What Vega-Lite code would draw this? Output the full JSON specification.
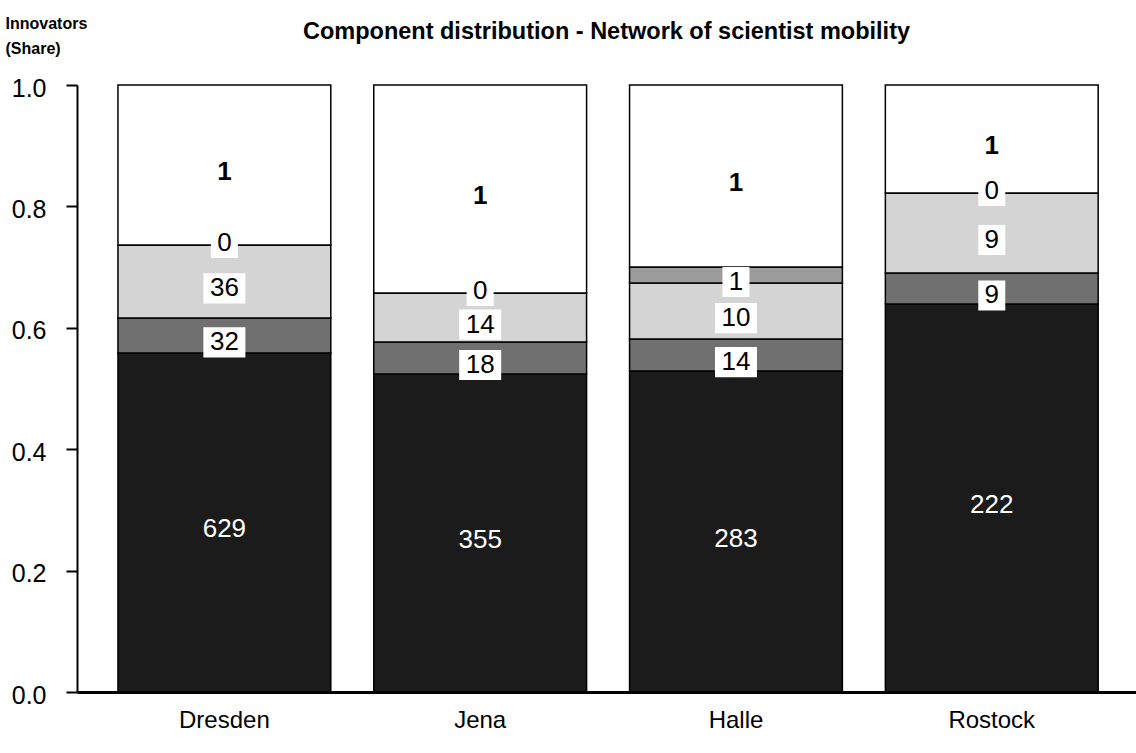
{
  "$schema": "https://vega.github.io/schema/vega-lite/v6.json",
  "width": 1059,
  "height": 607,
  "autosize": {"type": "none"},
  "padding": {"left": 77, "top": 85, "right": 0, "bottom": 61},
  "background": "white",
  "config": {"font": "Liberation Sans", "view": {"stroke": null}},
  "title": {
    "text": "Component distribution - Network of scientist mobility",
    "fontSize": 23.5,
    "fontWeight": "bold",
    "color": "black",
    "anchor": "middle",
    "frame": "group",
    "baseline": "alphabetic",
    "offset": 0,
    "dy": 47
  },
  "data": {
    "values": [
      {"city": "Dresden", "type": "single", "order": 1, "share": 0.5585, "label": "629"},
      {"city": "Dresden", "type": "pair", "order": 2, "share": 0.0577, "label": "32"},
      {"city": "Dresden", "type": "small", "order": 3, "share": 0.1203, "label": "36"},
      {"city": "Dresden", "type": "mid", "order": 4, "share": 0, "label": "0"},
      {"city": "Dresden", "type": "largest", "order": 5, "share": 0.2635, "label": "1"},
      {"city": "Jena", "type": "single", "order": 1, "share": 0.5239, "label": "355"},
      {"city": "Jena", "type": "pair", "order": 2, "share": 0.0527, "label": "18"},
      {"city": "Jena", "type": "small", "order": 3, "share": 0.0807, "label": "14"},
      {"city": "Jena", "type": "mid", "order": 4, "share": 0, "label": "0"},
      {"city": "Jena", "type": "largest", "order": 5, "share": 0.3427, "label": "1"},
      {"city": "Halle", "type": "single", "order": 1, "share": 0.5288, "label": "283"},
      {"city": "Halle", "type": "pair", "order": 2, "share": 0.0527, "label": "14"},
      {"city": "Halle", "type": "small", "order": 3, "share": 0.0923, "label": "10"},
      {"city": "Halle", "type": "mid", "order": 4, "share": 0.0264, "label": "1"},
      {"city": "Halle", "type": "largest", "order": 5, "share": 0.2998, "label": "1"},
      {"city": "Rostock", "type": "single", "order": 1, "share": 0.6392, "label": "222"},
      {"city": "Rostock", "type": "pair", "order": 2, "share": 0.0511, "label": "9"},
      {"city": "Rostock", "type": "small", "order": 3, "share": 0.1318, "label": "9"},
      {"city": "Rostock", "type": "mid", "order": 4, "share": 0, "label": "0"},
      {"city": "Rostock", "type": "largest", "order": 5, "share": 0.1779, "label": "1"}
    ]
  },
  "transform": [
    {"stack": "share", "groupby": ["city"], "sort": [{"field": "order"}], "as": ["y0", "y1"]},
    {"calculate": "(datum.y0 + datum.y1) / 2", "as": "ymid"}
  ],
  "encoding": {
    "x": {
      "field": "city",
      "type": "nominal",
      "sort": ["Dresden", "Jena", "Halle", "Rostock"],
      "scale": {"paddingInner": 0.168, "paddingOuter": 0.154, "align": 0.52},
      "axis": {
        "title": null,
        "domainColor": "black",
        "domainWidth": 3,
        "ticks": false,
        "labelFontSize": 24,
        "labelColor": "black",
        "labelPadding": 16,
        "labelAngle": 0,
        "grid": false
      }
    }
  },
  "layer": [
    {
      "mark": {"type": "bar", "stroke": "black", "strokeWidth": 1.5},
      "encoding": {
        "y": {
          "field": "y0",
          "type": "quantitative",
          "scale": {"domain": [0, 1], "nice": false, "zero": true},
          "axis": {
            "values": [0, 0.2, 0.4, 0.6, 0.8, 1],
            "format": ".1f",
            "domainColor": "black",
            "domainWidth": 2,
            "tickColor": "black",
            "tickWidth": 2,
            "tickSize": 11,
            "labelFontSize": 25,
            "labelColor": "black",
            "labelPadding": 20,
            "labelOffset": 3,
            "grid": false,
            "title": ["Innovators", "(Share)"],
            "titleAngle": 0,
            "titleAlign": "left",
            "titleBaseline": "alphabetic",
            "titleX": -72,
            "titleY": -57,
            "titleFontSize": 16,
            "titleFontWeight": "bold",
            "titleLineHeight": 25,
            "titleColor": "black"
          }
        },
        "y2": {"field": "y1"},
        "color": {
          "field": "type",
          "type": "nominal",
          "scale": {
            "domain": ["single", "pair", "small", "mid", "largest"],
            "range": ["#1b1b1b", "#707070", "#d4d4d4", "#9c9c9c", "#ffffff"]
          },
          "legend": null
        }
      }
    },
    {
      "transform": [{"filter": "datum.share > 0 && indexof(['pair','small','mid'], datum.type) >= 0 && length(datum.label) == 2"}],
      "mark": {"type": "point", "filled": true, "fill": "white", "strokeWidth": 0, "opacity": 1, "shape": "M-1,-0.72H1V0.72H-1Z", "size": 1764, "yOffset": 7},
      "encoding": {"y": {"field": "ymid", "type": "quantitative"}}
    },
    {
      "transform": [{"filter": "datum.share > 0 && indexof(['pair','small','mid'], datum.type) >= 0 && length(datum.label) == 1"}],
      "mark": {"type": "point", "filled": true, "fill": "white", "strokeWidth": 0, "opacity": 1, "shape": "M-0.9,-1H0.9V1H-0.9Z", "size": 900, "yOffset": 7},
      "encoding": {"y": {"field": "ymid", "type": "quantitative"}}
    },
    {
      "transform": [{"filter": "datum.share == 0"}],
      "mark": {"type": "point", "filled": true, "fill": "white", "strokeWidth": 0, "opacity": 1, "shape": "M-0.9,-1H0.9V1H-0.9Z", "size": 900, "yOffset": -2},
      "encoding": {"y": {"field": "ymid", "type": "quantitative"}}
    },
    {
      "transform": [{"filter": "datum.type == 'single'"}],
      "mark": {"type": "text", "fontSize": 26, "color": "white", "baseline": "middle", "yOffset": 7},
      "encoding": {"y": {"field": "ymid", "type": "quantitative"}, "text": {"field": "label"}}
    },
    {
      "transform": [{"filter": "datum.type == 'largest'"}],
      "mark": {"type": "text", "fontSize": 26, "fontWeight": "bold", "color": "black", "baseline": "middle", "yOffset": 7},
      "encoding": {"y": {"field": "ymid", "type": "quantitative"}, "text": {"field": "label"}}
    },
    {
      "transform": [{"filter": "datum.share > 0 && indexof(['pair','small','mid'], datum.type) >= 0"}],
      "mark": {"type": "text", "fontSize": 26, "color": "black", "baseline": "middle", "yOffset": 7},
      "encoding": {"y": {"field": "ymid", "type": "quantitative"}, "text": {"field": "label"}}
    },
    {
      "transform": [{"filter": "datum.share == 0"}],
      "mark": {"type": "text", "fontSize": 26, "color": "black", "baseline": "middle", "yOffset": -2},
      "encoding": {"y": {"field": "ymid", "type": "quantitative"}, "text": {"field": "label"}}
    }
  ]
}
